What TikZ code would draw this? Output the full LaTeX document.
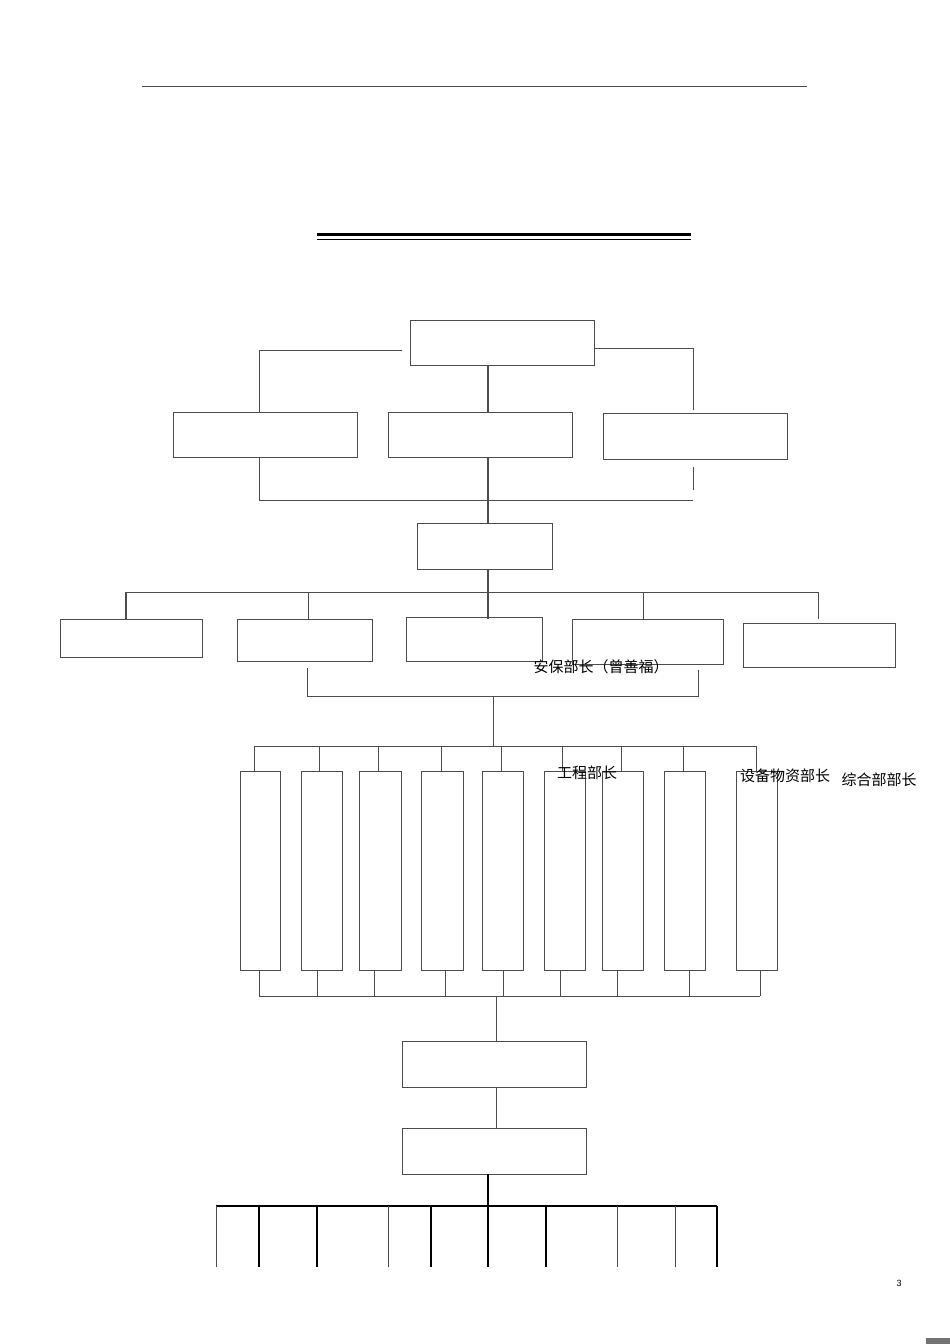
\documentclass[tikz,border=0pt]{standalone}
\usepackage{fontspec}
\setmainfont{Liberation Sans}
\newfontfamily\cjk{Noto Sans CJK SC}
\begin{document}
\begin{tikzpicture}[x=1pt,y=-1pt,line width=1pt,
 bx/.style={draw=black!70,line width=1pt},
 ln/.style={draw=black!70,line width=1pt},
 tx/.style={font=\cjk\fontsize{15}{15}\selectfont,inner sep=0pt}]
\useasboundingbox (0,0) rectangle (950,1344);
\draw[ln,line width=0.7pt] (142,86) -- (807,86);
\draw[line width=3pt] (317,234.5) -- (691,234.5);
\draw[line width=1.2pt] (317,239.5) -- (691,239.5);
% boxes
\draw[bx] (410,320) rectangle (594,365);
\draw[bx] (173,412) rectangle (357,457);
\draw[bx] (388,412) rectangle (572,457);
\draw[bx] (603,413) rectangle (787,459);
\draw[bx] (417,523) rectangle (552,569);
\draw[bx] (60,619) rectangle (202,657);
\draw[bx] (237,619) rectangle (372,661);
\draw[bx] (406,617) rectangle (542,661);
\draw[bx] (572,619) rectangle (723,664);
\draw[bx] (743,623) rectangle (895,667);
\foreach \a/\b in {240/280,301/342,359/401,421/463,482/523,544/585,602/643,664/705,736/777}
  \draw[bx] (\a,771) rectangle (\b,970);
\draw[bx] (402,1041) rectangle (586,1087);
\draw[bx] (402,1128) rectangle (586,1174);
% connectors
\draw[ln] (402,350) -- (259,350) -- (259,412);
\draw[ln] (594,348) -- (693,348) -- (693,410);
\draw[ln,line width=1.6pt] (488,365) -- (488,412);
\draw[ln] (259,457) -- (259,500) -- (693,500);
\draw[ln] (693,467) -- (693,490);
\draw[ln,line width=1.6pt] (488,457) -- (488,523);
\draw[ln,line width=1.6pt] (488,569) -- (488,592);
\draw[ln] (126,592) -- (818,592);
\foreach \x in {126,488} \draw[ln,line width=1.6pt] (\x,592) -- (\x,619);
\foreach \x in {308,643,818} \draw[ln] (\x,592) -- (\x,619);
\draw[ln] (307,668) -- (307,696) -- (698,696) -- (698,670);
\draw[ln] (493,696) -- (493,746);
\draw[ln] (254,746) -- (756,746);
\foreach \x in {254,319,378,441,501,562,621,683,756} \draw[ln] (\x,746) -- (\x,771);
\draw[ln] (259,996) -- (760,996);
\foreach \x in {259,317,374,445,503,560,617,689,760} \draw[ln] (\x,996) -- (\x,970);
\draw[ln] (496,996) -- (496,1041);
\draw[ln] (496,1087) -- (496,1128);
\draw[line width=1.6pt] (488,1174) -- (488,1206);
\draw[line width=1.6pt] (216,1206) -- (717,1206);
\foreach \x in {259,317,431,488,546,717} \draw[line width=1.6pt] (\x,1206) -- (\x,1267);
\foreach \x in {216,388,617,675} \draw[ln,line width=0.8pt] (\x,1206) -- (\x,1267);
% texts
\node[tx] (t1) at (601,667) {安保部长（曾善福）};
\node[tx] (t2) at (587,773) {工程部长};
\node[tx] (t3) at (785,776) {设备物资部长};
\node[tx] (t4) at (879,780) {综合部部长};
\node[font=\fontsize{9}{9}\selectfont] (pg) at (899,1283) {3};
\fill[black!55] (926,1338) rectangle (950,1344);
\end{tikzpicture}
\end{document}
